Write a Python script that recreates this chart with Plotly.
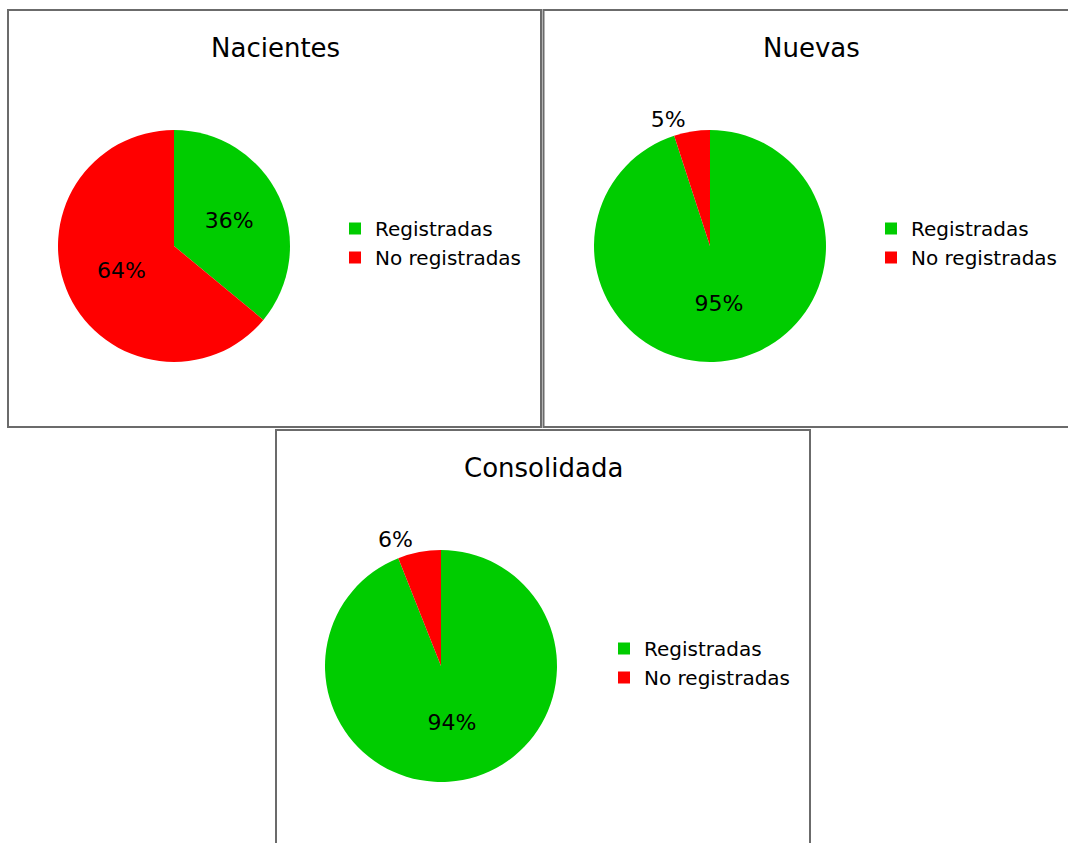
import plotly.graph_objects as go

W, H = 1068, 843

labels = ["Registradas", "No registradas"]
colors = ["#00CC00", "#FF0000"]
titles = ["Nacientes", "Nuevas", "Consolidada"]
values_nacientes = [36, 64]
values_nuevas = [95, 5]
values_consolidada = [94, 6]
series = [values_nacientes, values_nuevas, values_consolidada]
textpos = [["inside", "inside"], ["inside", "outside"], ["inside", "outside"]]

# layout (pixel units)
pie_centers = [(174, 246), (710, 246), (441, 666)]
radius = 116
panels = [(8, 10, 541, 427), (543.5, 10, 1075, 427), (276, 430, 810, 850)]
title_pos = [(275, 48), (811, 48), (543, 468)]
legend_pos = [(335, 209), (871, 209), (604, 629)]

FONT = "DejaVu Sans"

def px(x):
    return x / W

def py(y):
    return 1 - y / H

fig = go.Figure()
legend_names = ["legend", "legend2", "legend3"]
for i, vals in enumerate(series):
    cx, cy = pie_centers[i]
    # zero-width spaces keep legend entries of each panel distinct (plotly merges equal pie labels)
    panel_labels = [lab + "\u200b" * i for lab in labels]
    fig.add_trace(go.Pie(
        labels=panel_labels,
        values=vals,
        sort=False,
        direction="clockwise",
        rotation=0,
        marker=dict(colors=colors, line=dict(width=0)),
        texttemplate="%{percent:.0%}",
        textposition=textpos[i],
        insidetextorientation="horizontal",
        textfont=dict(family=FONT, size=22, color="#000000"),
        domain=dict(x=[px(cx - radius), px(cx + radius)], y=[py(cy + radius), py(cy - radius)]),
        legend=legend_names[i],
        showlegend=True,
        hoverinfo="label+percent",
    ))

shapes = []
for (x0, y0, x1, y1) in panels:
    shapes.append(dict(type="rect", xref="paper", yref="paper",
                       x0=px(x0), x1=px(x1), y0=py(y1), y1=py(y0),
                       line=dict(color="#6b6b6b", width=2), fillcolor="rgba(0,0,0,0)", layer="below"))

annotations = []
for t, (tx, ty) in zip(titles, title_pos):
    annotations.append(dict(text=t, x=px(tx), y=py(ty), xref="paper", yref="paper",
                            showarrow=False, xanchor="center", yanchor="middle",
                            font=dict(family=FONT, size=26, color="#000000")))

legend_common = dict(font=dict(family=FONT, size=20, color="#000000"),
                     bgcolor="rgba(0,0,0,0)", xanchor="left", yanchor="top",
                     orientation="v", itemwidth=30)
layout_legends = {}
for name, (lx, ly) in zip(legend_names, legend_pos):
    layout_legends[name] = dict(x=px(lx), y=py(ly), **legend_common)

fig.update_layout(
    width=W, height=H,
    margin=dict(l=0, r=0, t=0, b=0),
    paper_bgcolor="white", plot_bgcolor="white",
    shapes=shapes, annotations=annotations,
    **layout_legends,
)

fig.write_html("out.html", config={"displayModeBar": False},
               post_script="document.body.style.margin='0px';document.body.style.overflow='hidden';")
